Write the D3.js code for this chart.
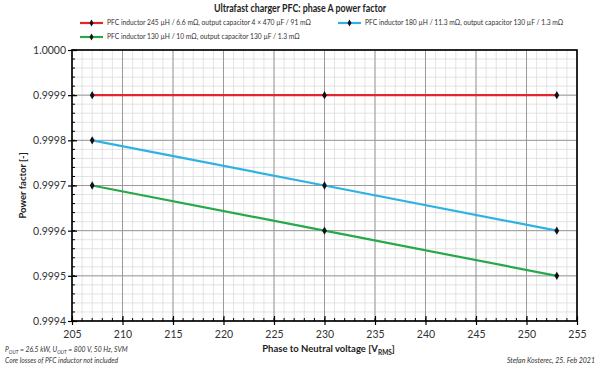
<!DOCTYPE html>
<html>
<head>
<meta charset="utf-8">
<script src="https://cdn.jsdelivr.net/npm/d3@7"></script>
<style>
  body { margin: 0; background: #fff; }
  text { font-family: Lato, "Open Sans", sans-serif; }
</style>
</head>
<body>
<div id="chart"></div>
<script>
// data
const voltages = [207, 230, 253];
const seriesNames = [
    "PFC inductor 245 \u00b5H / 6.6 m\u03a9, output capacitor 4 \u00d7 470 \u00b5F / 91 m\u03a9",
    "PFC inductor 180 \u00b5H / 11.3 m\u03a9, output capacitor 130 \u00b5F / 1.3 m\u03a9",
    "PFC inductor 130 \u00b5H / 10 m\u03a9, output capacitor 130 \u00b5F / 1.3 m\u03a9"
];
const pfRed = [0.9999, 0.9999, 0.9999];
const pfBlue = [0.9998, 0.9997, 0.9996];
const pfGreen = [0.9997, 0.9996, 0.9995];
const seriesColors = ["#e2262b", "#2fb2e2", "#27a84a"];
const xTicks = [205, 210, 215, 220, 225, 230, 235, 240, 245, 250, 255];
const yTicks = [0.9994, 0.9995, 0.9996, 0.9997, 0.9998, 0.9999, 1.0000];

const W = 600, H = 369;
const margin = { top: 50, right: 23, bottom: 48, left: 72 };
const width = W - margin.left - margin.right;
const height = H - margin.top - margin.bottom;

const svgRoot = d3.select("#chart").append("svg")
    .attr("width", W)
    .attr("height", H);

const svg = svgRoot.append("g")
    .attr("transform", `translate(${margin.left},${margin.top})`);

const xScale = d3.scaleLinear().domain([205, 255]).range([0, width]);
const yScale = d3.scaleLinear().domain([0.9994, 1.0000]).range([height, 0]);

// minor grid
const xMinor = d3.range(205, 256, 1);
const yMinor = d3.range(0, 31).map(i => 0.9994 + i * 0.00002);

svg.append("g").selectAll("line")
    .data(xMinor)
    .enter().append("line")
    .attr("x1", d => xScale(d)).attr("x2", d => xScale(d))
    .attr("y1", 0).attr("y2", height)
    .attr("stroke", "#dcdcdc").attr("stroke-width", 0.8);

svg.append("g").selectAll("line")
    .data(yMinor)
    .enter().append("line")
    .attr("y1", d => yScale(d)).attr("y2", d => yScale(d))
    .attr("x1", 0).attr("x2", width)
    .attr("stroke", "#dcdcdc").attr("stroke-width", 0.8);

// major grid
svg.append("g").selectAll("line")
    .data(xTicks)
    .enter().append("line")
    .attr("x1", d => xScale(d)).attr("x2", d => xScale(d))
    .attr("y1", 0).attr("y2", height)
    .attr("stroke", "#9a9a9a").attr("stroke-width", 1);

svg.append("g").selectAll("line")
    .data(yTicks)
    .enter().append("line")
    .attr("y1", d => yScale(d)).attr("y2", d => yScale(d))
    .attr("x1", 0).attr("x2", width)
    .attr("stroke", "#9a9a9a").attr("stroke-width", 1);

// minor ticks on the inside
svg.append("g").selectAll("line")
    .data(xMinor)
    .enter().append("line")
    .attr("x1", d => xScale(d)).attr("x2", d => xScale(d))
    .attr("y1", height).attr("y2", height - 3)
    .attr("stroke", "#000").attr("stroke-width", 1);

svg.append("g").selectAll("line")
    .data(yMinor)
    .enter().append("line")
    .attr("y1", d => yScale(d)).attr("y2", d => yScale(d))
    .attr("x1", 0).attr("x2", 3)
    .attr("stroke", "#000").attr("stroke-width", 1);

// axes
const xAxis = svg.append("g")
    .attr("transform", `translate(0,${height})`)
    .call(d3.axisBottom(xScale).tickValues(xTicks).tickSize(4).tickFormat(d3.format("d")));
xAxis.select(".domain").remove();
xAxis.selectAll(".tick line").attr("y1", -5).attr("stroke-width", 1.2);
xAxis.selectAll("text")
    .style("font-size", "10.5px")
    .attr("fill", "#333")
    .attr("dy", "0.95em");

const yAxis = svg.append("g")
    .call(d3.axisLeft(yScale).tickValues(yTicks).tickSize(4).tickFormat(d3.format(".4f")));
yAxis.select(".domain").remove();
yAxis.selectAll(".tick line").attr("x1", 5).attr("stroke-width", 1.2);
yAxis.selectAll("text")
    .style("font-size", "10.5px")
    .attr("fill", "#333")
    .attr("x", -6);

// frame
svg.append("rect")
    .attr("width", width).attr("height", height)
    .attr("fill", "none")
    .attr("stroke", "#000").attr("stroke-width", 1.6);

// lines
const allSeries = [pfRed, pfBlue, pfGreen];
const line = d3.line()
    .x((d, i) => xScale(voltages[i]))
    .y(d => yScale(d));

allSeries.forEach((vals, k) => {
    svg.append("path")
        .datum(vals)
        .attr("d", line)
        .attr("fill", "none")
        .attr("stroke", seriesColors[k])
        .attr("stroke-width", 2.2);
    svg.selectAll(".dot" + k)
        .data(vals)
        .enter().append("path")
        .attr("class", "dot" + k)
        .attr("d", d3.symbol().type(d3.symbolDiamond).size(20))
        .attr("transform", (d, i) => `translate(${xScale(voltages[i])},${yScale(d)})`)
        .attr("fill", "#111");
});

// title
svgRoot.append("text")
    .attr("x", 300).attr("y", 12)
    .attr("text-anchor", "middle")
    .attr("textLength", 172)
    .attr("lengthAdjust", "spacingAndGlyphs")
    .style("font-size", "12px")
    .style("font-weight", "bold")
    .attr("fill", "#222")
    .text("Ultrafast charger PFC: phase A power factor");

// legend
const legendPos = [[80, 23], [338, 23], [80, 37]];
seriesNames.forEach((name, k) => {
    const g = svgRoot.append("g").attr("transform", `translate(${legendPos[k][0]},${legendPos[k][1]})`);
    g.append("line").attr("x1", 0).attr("x2", 23)
        .attr("stroke", seriesColors[k]).attr("stroke-width", 2.2);
    g.append("path")
        .attr("d", d3.symbol().type(d3.symbolDiamond).size(14))
        .attr("transform", "translate(11.5,0)")
        .attr("fill", "#111");
    g.append("text")
        .attr("x", 27).attr("y", 0)
        .attr("dy", "0.33em")
        .style("font-size", "6.7px")
        .attr("fill", "#333")
        .text(name);
});

// axis titles
svgRoot.append("text")
    .attr("transform", "rotate(-90)")
    .attr("x", -(margin.top + height / 2))
    .attr("y", 26)
    .attr("text-anchor", "middle")
    .style("font-size", "9.5px")
    .style("font-weight", "bold")
    .attr("fill", "#222")
    .text("Power factor [-]");

const xt = svgRoot.append("text")
    .attr("x", margin.left + width / 2 + 4)
    .attr("y", 352)
    .attr("text-anchor", "middle")
    .style("font-size", "9.5px")
    .style("font-weight", "bold")
    .attr("fill", "#222");
xt.append("tspan").text("Phase to Neutral voltage [V");
xt.append("tspan").attr("dy", 2.5).style("font-size", "6.5px").text("RMS");
xt.append("tspan").attr("dy", -2.5).text("]");

// footnotes
const fn = svgRoot.append("text")
    .attr("x", 5).attr("y", 352)
    .style("font-size", "6.8px")
    .style("font-style", "italic")
    .attr("fill", "#333");
fn.append("tspan").text("P");
fn.append("tspan").attr("dy", 1.5).style("font-size", "4.8px").text("OUT");
fn.append("tspan").attr("dy", -1.5).text(" = 26.5 kW, U");
fn.append("tspan").attr("dy", 1.5).style("font-size", "4.8px").text("OUT");
fn.append("tspan").attr("dy", -1.5).text(" = 800 V, 50 Hz, SVM");

svgRoot.append("text")
    .attr("x", 5).attr("y", 363)
    .style("font-size", "6.8px")
    .style("font-style", "italic")
    .attr("fill", "#333")
    .text("Core losses of PFC inductor not included");

svgRoot.append("text")
    .attr("x", 595).attr("y", 363)
    .attr("text-anchor", "end")
    .style("font-size", "7px")
    .style("font-style", "italic")
    .attr("fill", "#333")
    .text("Stefan Kosterec, 25. Feb 2021");
</script>
</body>
</html>
